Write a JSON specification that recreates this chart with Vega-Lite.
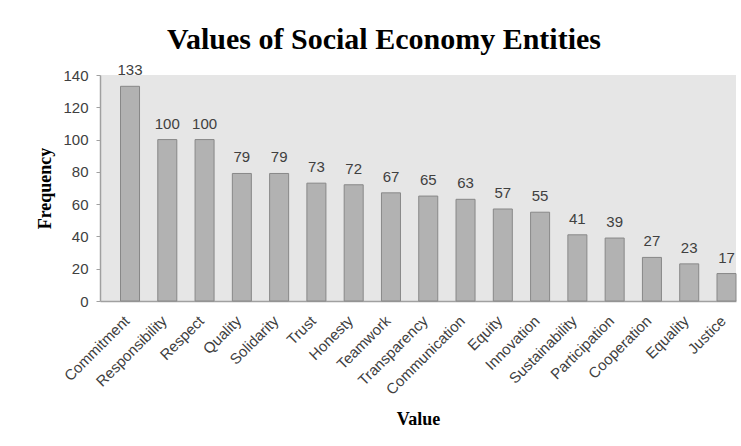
{
  "$schema": "https://vega.github.io/schema/vega-lite/v6.json",
  "width": 636,
  "height": 226,
  "autosize": {"type": "none"},
  "padding": {"left": 100, "top": 75, "right": 5, "bottom": 145},
  "background": "white",
  "title": {
    "text": "Values of Social Economy Entities",
    "font": "Liberation Serif",
    "fontSize": 30,
    "fontWeight": "bold",
    "color": "#000000",
    "anchor": "middle",
    "dx": -34,
    "offset": 8
  },
  "data": {
    "values": [
      {"value": "Commitment", "frequency": 133},
      {"value": "Responsibility", "frequency": 100},
      {"value": "Respect", "frequency": 100},
      {"value": "Quality", "frequency": 79},
      {"value": "Solidarity", "frequency": 79},
      {"value": "Trust", "frequency": 73},
      {"value": "Honesty", "frequency": 72},
      {"value": "Teamwork", "frequency": 67},
      {"value": "Transparency", "frequency": 65},
      {"value": "Communication", "frequency": 63},
      {"value": "Equity", "frequency": 57},
      {"value": "Innovation", "frequency": 55},
      {"value": "Sustainability", "frequency": 41},
      {"value": "Participation", "frequency": 39},
      {"value": "Cooperation", "frequency": 27},
      {"value": "Equality", "frequency": 23},
      {"value": "Justice", "frequency": 17}
    ]
  },
  "encoding": {
    "x": {
      "field": "value",
      "type": "nominal",
      "sort": null,
      "scale": {"paddingInner": 0.49, "paddingOuter": 0.275, "align": 1},
      "axis": {
        "title": "Value",
        "titleFont": "Liberation Serif",
        "titleFontSize": 18,
        "titleFontWeight": "bold",
        "titleColor": "#000000",
        "titleY": 109,
        "titleAnchor": "middle",
        "labelAngle": -45,
        "labelAlign": "right",
        "labelBaseline": "top",
        "labelFont": "Liberation Sans",
        "labelFontSize": 15,
        "labelColor": "#404040",
        "labelPadding": 12,
        "labelOffset": -8,
        "ticks": false,
        "domainColor": "#a0a0a0",
        "domainWidth": 1.5
      }
    },
    "y": {
      "field": "frequency",
      "type": "quantitative",
      "scale": {"domain": [0, 140], "nice": false},
      "axis": {
        "title": "Frequency",
        "titleFont": "Liberation Serif",
        "titleFontSize": 18,
        "titleFontWeight": "bold",
        "titleColor": "#000000",
        "titlePadding": 8,
        "values": [0, 20, 40, 60, 80, 100, 120, 140],
        "grid": false,
        "labelFont": "Liberation Sans",
        "labelFontSize": 15,
        "labelColor": "#404040",
        "labelPadding": 8,
        "tickSize": 4,
        "tickColor": "#a0a0a0",
        "domainColor": "#a0a0a0",
        "domainWidth": 1.5
      }
    }
  },
  "layer": [
    {
      "mark": {"type": "bar", "fill": "#b2b2b2", "stroke": "#888888", "strokeWidth": 1}
    },
    {
      "mark": {
        "type": "text",
        "dy": -11,
        "baseline": "alphabetic",
        "font": "Liberation Sans",
        "fontSize": 15,
        "color": "#404040"
      },
      "encoding": {"text": {"field": "frequency", "type": "quantitative"}}
    }
  ],
  "config": {"view": {"fill": "#e6e6e6", "stroke": null}}
}
